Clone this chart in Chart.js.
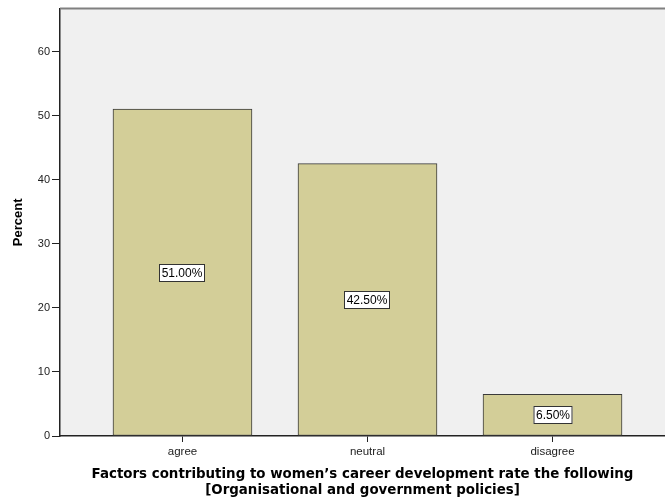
<!DOCTYPE html>
<html>
<head>
<meta charset="utf-8">
<script src="https://cdn.jsdelivr.net/npm/chart.js@4.4.1/dist/chart.umd.min.js"></script>
<style>
  html, body { margin: 0; padding: 0; background: #fff; overflow: hidden; }
  #wrap { width: 665px; height: 499px; position: relative; }
</style>
</head>
<body>
<div id="wrap"><canvas id="c" width="665" height="499"></canvas></div>
<script>
// chart data
const categories = ['agree', 'neutral', 'disagree'];
const percents = [51.0, 42.5, 6.5];
const yTicks = [0, 10, 20, 30, 40, 50, 60];

// plot background + top border
const plotFrame = {
    id: 'plotFrame',
    beforeDraw(chart) {
        const {ctx, chartArea: a} = chart;
        ctx.save();
        ctx.fillStyle = '#f0f0f0';
        ctx.fillRect(a.left, a.top, a.right - a.left, a.bottom - a.top);
        ctx.restore();
    },
    afterDraw(chart) {
        const {ctx, chartArea: a} = chart;
        ctx.save();
        ctx.strokeStyle = '#808080';
        ctx.lineWidth = 2;
        ctx.beginPath();
        ctx.moveTo(a.left, a.top);
        ctx.lineTo(a.right, a.top);
        ctx.stroke();
        ctx.restore();
    }
};

// percentage labels in the middle of each bar
const barLabels = {
    id: 'barLabels',
    afterDatasetsDraw(chart) {
        const {ctx} = chart;
        const yScale = chart.scales.y;
        const meta = chart.getDatasetMeta(0);
        ctx.save();
        ctx.font = '12px "Liberation Sans", Arial, sans-serif';
        ctx.textAlign = 'center';
        ctx.textBaseline = 'middle';
        meta.data.forEach((bar, i) => {
            const txt = percents[i].toFixed(2) + '%';
            const y = Math.round(yScale.getPixelForValue(percents[i] / 2));
            const w = Math.round(ctx.measureText(txt).width) + 5;
            const h = 18;
            const x = Math.round(bar.x);
            ctx.fillStyle = '#ffffff';
            ctx.fillRect(x - w / 2, y - h / 2, w, h);
            ctx.strokeStyle = '#333333';
            ctx.lineWidth = 1;
            ctx.strokeRect(x - w / 2 + 0.5, y - h / 2 + 0.5, w - 1, h - 1);
            ctx.fillStyle = '#000000';
            ctx.fillText(txt, x, y + 1);
        });
        ctx.restore();
    }
};

const ctx = document.getElementById('c').getContext('2d');
new Chart(ctx, {
    type: 'bar',
    data: {
        datasets: [{
            data: percents.map((v, i) => ({x: i + 1, y: v})),
            backgroundColor: '#d3ce98',
            borderColor: '#3a3a3a',
            borderWidth: 1,
            borderSkipped: false,
            barThickness: 139
        }]
    },
    options: {
        responsive: false,
        animation: false,
        events: [],
        layout: {padding: {top: 8, right: 0, left: 0, bottom: 0}},
        plugins: {
            legend: {display: false},
            tooltip: {enabled: false}
        },
        scales: {
            x: {
                type: 'linear',
                offset: false,
                min: 0.338,
                max: 3.608,
                afterBuildTicks(scale) {
                    scale.ticks = categories.map((c, i) => ({value: i + 1}));
                },
                afterFit(scale) { scale.height = 63; },
                ticks: {
                    callback: v => categories[v - 1] || '',
                    font: {family: '"Liberation Sans", Arial, sans-serif', size: 11.5},
                    color: '#222',
                    padding: 3,
                    maxRotation: 0
                },
                grid: {drawOnChartArea: false, offset: false, tickLength: 6, color: '#222', lineWidth: 1},
                border: {color: '#222', width: 1.5},
                title: {
                    display: true,
                    text: ['Factors contributing to women\u2019s career development rate the following',
                           '[Organisational and government policies]'],
                    font: {family: '"DejaVu Sans", Verdana, sans-serif', size: 13.4, weight: 'bold', lineHeight: 1.2},
                    color: '#000',
                    padding: {top: 0, bottom: 0}
                }
            },
            y: {
                min: 0,
                max: 66.7,
                afterBuildTicks(scale) {
                    scale.ticks = yTicks.map(v => ({value: v}));
                },
                afterFit(scale) { scale.width = 60; },
                ticks: {
                    font: {family: '"Liberation Sans", Arial, sans-serif', size: 11},
                    color: '#222',
                    padding: 2
                },
                grid: {drawOnChartArea: false, tickLength: 8, color: '#222', lineWidth: 1},
                border: {color: '#222', width: 1.5},
                title: {
                    display: true,
                    text: 'Percent',
                    font: {family: '"Liberation Sans", Arial, sans-serif', size: 13, weight: 'bold'},
                    color: '#000',
                    padding: {top: 11, bottom: 0}
                }
            }
        }
    },
    plugins: [plotFrame, barLabels]
});
</script>
</body>
</html>
